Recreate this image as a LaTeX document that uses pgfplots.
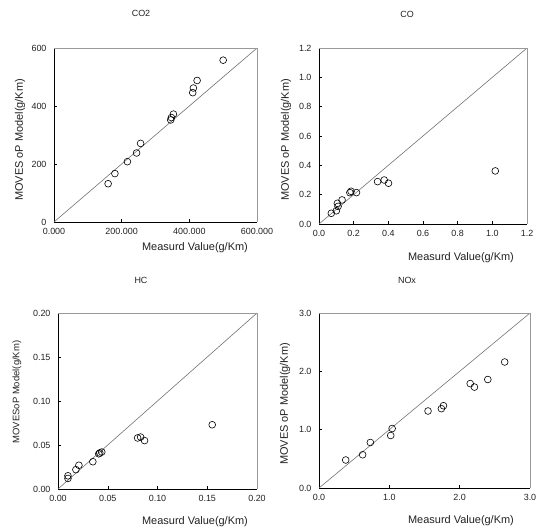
\documentclass[border=0pt]{standalone}
\usepackage{fontspec}
\setmainfont{Liberation Sans}
\usepackage{pgfplots}
\pgfplotsset{compat=1.18}
\definecolor{txt}{HTML}{222222}

\pgfplotsset{
  panel/.style={
    scale only axis,
    anchor=south west,
    axis x line*=bottom,
    axis y line*=left,
    axis line style={black, line width=0.6pt},
    tick align=inside,
    major tick length=3bp,
    tick style={black, line width=0.5pt},
    tick label style={font=\fontsize{9}{10}\selectfont, text=txt},
    /pgf/number format/assume math mode=true,
    xticklabel style={yshift=-3bp},
    yticklabel style={xshift=-4bp},
    clip=false,
    after end axis/.code={
      \draw[gray!80, line width=0.5pt] (rel axis cs:0,1) -- (rel axis cs:1,1) -- (rel axis cs:1,0);
    },
  },
  pts/.style={only marks, mark=o, mark size=3.4bp, mark options={black, line width=0.6pt}},
  diag/.style={gray!90!black, line width=0.6pt, no marks},
}
\newcommand{\lab}{\fontsize{11}{12}\selectfont}

\begin{document}
\begin{tikzpicture}
\path[use as bounding box] (0,0) rectangle (541bp,531bp);

% CO2
\begin{axis}[panel, at={(54bp,309bp)}, width=203bp, height=174bp,
  xmin=0, xmax=600, ymin=0, ymax=600,
  xtick={0,200,400,600}, ytick={0,200,400,600},
  xticklabel style={/pgf/number format/.cd, fixed, fixed zerofill, precision=3, 1000 sep={}},
  yticklabel style={/pgf/number format/.cd, fixed, precision=0}]
\addplot[diag] coordinates {(0,0) (600,600)};
\addplot[pts] coordinates {
(160,132) (180,167) (217,208) (244,238) (256,271)
(345,352) (347,360) (353,372)
(410,446) (412,462) (423,488) (500,558)};
\end{axis}

% CO
\begin{axis}[panel, at={(319bp,307bp)}, width=208bp, height=176bp,
  xmin=0, xmax=1.2, ymin=0, ymax=1.2,
  xtick={0,0.2,...,1.2}, ytick={0,0.2,...,1.2},
  xticklabel style={/pgf/number format/.cd, fixed, fixed zerofill, precision=1},
  yticklabel style={/pgf/number format/.cd, fixed, fixed zerofill, precision=1}]
\addplot[diag] coordinates {(0,0) (1.2,1.2)};
\addplot[pts] coordinates {
(0.071,0.073) (0.100,0.090) (0.110,0.120) (0.106,0.141) (0.133,0.164)
(0.178,0.214) (0.185,0.223) (0.216,0.214)
(0.338,0.289) (0.376,0.300) (0.401,0.278) (1.017,0.362)};
\end{axis}

% HC
\begin{axis}[panel, at={(58bp,42bp)}, width=199bp, height=176bp,
  xmin=0, xmax=0.2, ymin=0, ymax=0.2,
  xtick={0,0.05,...,0.2}, ytick={0,0.05,...,0.2},
  xticklabel style={/pgf/number format/.cd, fixed, fixed zerofill, precision=2},
  yticklabel style={/pgf/number format/.cd, fixed, fixed zerofill, precision=2}]
\addplot[diag] coordinates {(0,0) (0.2,0.2)};
\addplot[pts] coordinates {
(0.010,0.012) (0.010,0.015) (0.018,0.022) (0.021,0.027) (0.035,0.031)
(0.041,0.040) (0.042,0.041) (0.044,0.042)
(0.080,0.058) (0.083,0.059) (0.087,0.055) (0.155,0.073)};
\end{axis}

% NOx
\begin{axis}[panel, at={(319bp,43bp)}, width=211bp, height=175bp,
  xmin=0, xmax=3, ymin=0, ymax=3,
  xtick={0,1,2,3}, ytick={0,1,2,3},
  xticklabel style={/pgf/number format/.cd, fixed, fixed zerofill, precision=1},
  yticklabel style={/pgf/number format/.cd, fixed, fixed zerofill, precision=1}]
\addplot[diag] coordinates {(0,0) (3,3)};
\addplot[pts] coordinates {
(0.38,0.48) (0.62,0.57) (0.73,0.78) (1.02,0.90) (1.04,1.02)
(1.55,1.32) (1.74,1.36) (1.77,1.41)
(2.15,1.79) (2.21,1.73) (2.40,1.86) (2.64,2.16)};
\end{axis}

% titles
\begin{scope}[every node/.style={text=txt, font=\fontsize{9}{10}\selectfont}]
\node at (141bp,518bp) {CO2};
\node at (407bp,517bp) {CO};
\node at (141bp,251bp) {HC};
\node at (407bp,251bp) {NOx};
\end{scope}

% axis labels
\begin{scope}[every node/.style={text=txt, font=\lab}]
\node at (195bp,283bp) {Measurd Value(g/Km)};
\node at (461bp,273bp) {Measurd Value(g/Km)};
\node at (195bp,9bp) {Measurd Value(g/Km)};
\node at (461bp,10bp) {Measurd Value(g/Km)};
\node[rotate=90] at (20bp,391bp) {MOVES oP Model(g/Km)};
\node[rotate=90] at (286bp,391bp) {MOVES oP Model(g/Km)};
\node[rotate=90, font=\fontsize{9.5}{10}\selectfont] at (17bp,139bp) {MOVESoP Model(g/Km)};
\node[rotate=90] at (285bp,127bp) {MOVES oP Model(g/Km)};
\end{scope}
\end{tikzpicture}
\end{document}
